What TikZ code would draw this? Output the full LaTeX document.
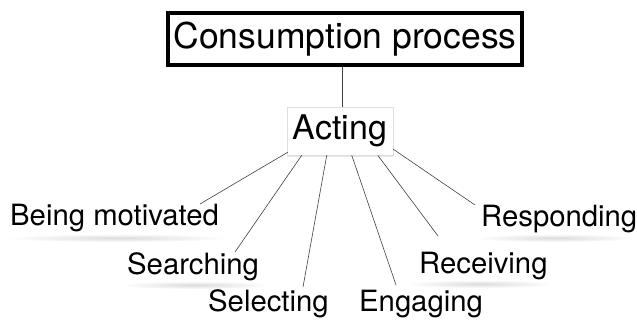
\documentclass[tikz,border=0pt]{standalone}
\usepackage{fontspec}
\setmainfont{TeX Gyre Heros}
\usetikzlibrary{calc,shadows}
\tikzset{
  topbox/.style={draw=black, line width=4.5pt, fill=white, minimum width=354pt, minimum height=52pt, inner sep=0pt, font=\fontsize{35.5}{40}\selectfont},
  actbox/.style={draw=gray!25, line width=0.5pt, fill=white, minimum width=106pt, minimum height=48pt, inner sep=0pt, font=\fontsize{34}{40}\selectfont,
    drop shadow={shadow xshift=0pt, shadow yshift=-2pt, opacity=0.2, fill=gray}},
  leaf/.style={anchor=base west, inner sep=0pt, font=\fontsize{29.3}{34}\selectfont},
  conn/.style={draw=black!75, line width=0.6pt},
}
\newcommand{\softshadow}[3]{\shade[inner color=gray!28, outer color=white] (#1,#2) ellipse [x radius=#3, y radius=4];}
\begin{document}
\begin{tikzpicture}[x=1pt,y=-1pt]
\useasboundingbox (0,0) rectangle (637,320);
% soft shadows under leaves
\softshadow{118}{238}{112}
\softshadow{195}{285}{75}
\softshadow{480}{284}{75}
\softshadow{555}{238}{80}
\node[topbox] (cp) at (345,39) {Consumption process};
\node[actbox] (act) at (340,131) {Acting};
\draw[conn] (cp.south -| 342,0) -- (act.north -| 342,0);
\node[leaf] (bm) at (10,226) {Being motivated};
\node[leaf] (se) at (127,275) {Searching};
\node[leaf] (sl) at (208,312) {Selecting};
\node[leaf] (en) at (359,312) {Engaging};
\node[leaf] (re) at (419,273) {Receiving};
\node[leaf] (rs) at (481,227) {Responding};
\draw[conn] ($(act.south west)+(1,-3)$) -- ($(bm.base west)+(190,-22)$);
\draw[conn] ($(act.south west)+(15,0)$) -- ($(se.base west)+(108,-23)$);
\draw[conn] ($(act.south west)+(40,0)$) -- ($(sl.base west)+(95,-25)$);
\draw[conn] ($(act.south west)+(65,0)$) -- ($(en.base west)+(37,-27)$);
\draw[conn] ($(act.south west)+(91,0)$) -- ($(re.base west)+(19,-37)$);
\draw[conn] ($(act.south east)+(0,-6)$) -- ($(rs.base west)+(-6,-22)$);
\end{tikzpicture}
\end{document}
